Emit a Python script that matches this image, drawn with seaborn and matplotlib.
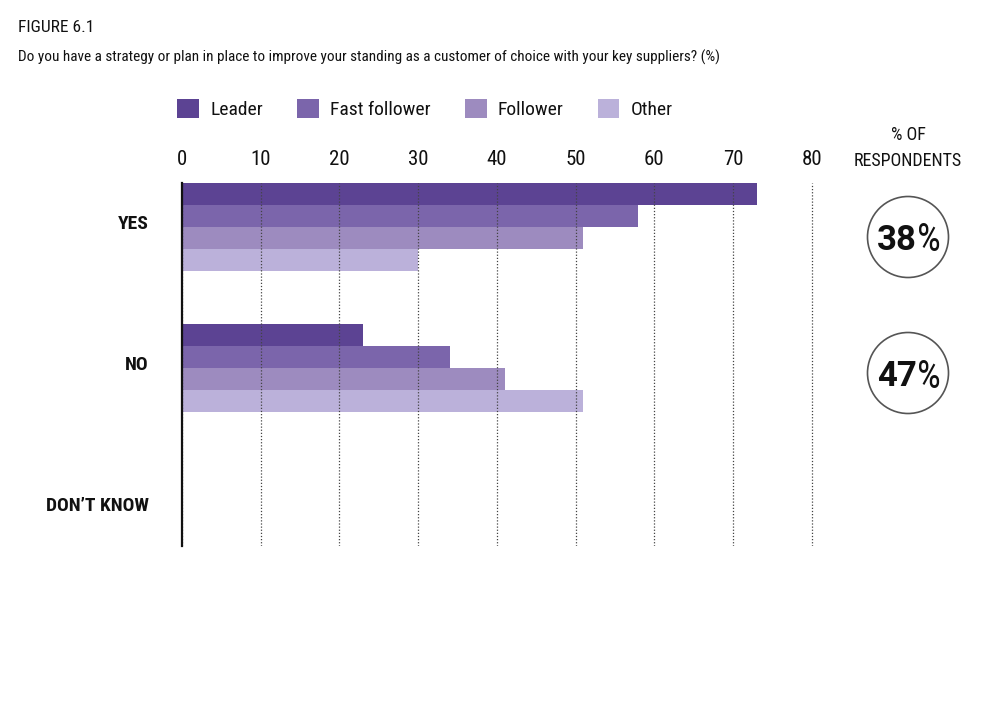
import pandas as pd
import numpy as np
import matplotlib.pyplot as plt
import matplotlib.transforms as mtransforms
import seaborn as sns
from matplotlib.patches import Patch, Ellipse

# chart data
answers = ['YES', 'NO', 'DON\u2019T KNOW']
groups = ['Leader', 'Fast follower', 'Follower', 'Other']
leader = [73, 23, 0]
fast_follower = [58, 34, 0]
follower = [51, 41, 0]
other = [30, 51, 0]
respondents = ['38', '47']
x_ticks = [0, 10, 20, 30, 40, 50, 60, 70, 80]

colors = ['#5c4393', '#7b65ab', '#9d8bbf', '#bbb1da']

sns.set_theme(style='white')
plt.rcParams['font.family'] = ['Roboto Condensed', 'Lato', 'DejaVu Sans']

df = pd.DataFrame({
    'answer': answers * 4,
    'group': np.repeat(groups, len(answers)),
    'value': leader + fast_follower + follower + other,
})

fig = plt.figure(figsize=(10, 7.14), dpi=100)
ax = fig.add_axes([0.182, 0.2353, 0.632, 0.5084])

sns.barplot(data=df, y='answer', x='value', hue='group', order=answers,
            hue_order=groups, palette=colors, orient='h', width=0.62,
            saturation=1, linewidth=0, legend=False, ax=ax)

ax.set_xlim(0, 80.3)
ax.set_ylim(2.262, -0.312)
ax.set_xticks(x_ticks)
ax.xaxis.tick_top()
ax.tick_params(axis='x', length=0, pad=10, labelsize=15, colors='#111111')
ax.tick_params(axis='y', length=0, pad=24, labelsize=14, colors='#111111')
# category labels sit a little above the bar-group centres
shift = mtransforms.ScaledTranslation(0, 5 / 100, fig.dpi_scale_trans)
for lbl in ax.get_yticklabels():
    lbl.set_fontweight('bold')
    lbl.set_transform(lbl.get_transform() + shift)
ax.set_xlabel('')
ax.set_ylabel('')
ax.grid(axis='x', linestyle=(0, (1, 1.5)), color='#444444', linewidth=0.9)
ax.set_axisbelow(False)
for side in ['top', 'right', 'bottom']:
    ax.spines[side].set_visible(False)
ax.spines['left'].set_color('#111111')
ax.spines['left'].set_linewidth(1.6)
ax.spines['left'].set_zorder(5)

# legend
handles = [Patch(facecolor=c, edgecolor='none', label=g) for c, g in zip(colors, groups)]
fig.legend(handles=handles, loc='center left', bbox_to_anchor=(0.177, 0.847),
           ncol=4, frameon=False, fontsize=14, handlelength=1.13, handleheight=1.13,
           handletextpad=0.57, columnspacing=1.75, borderpad=0, borderaxespad=0,
           labelcolor='#111111')

# titles
fig.text(0.018, 0.972, 'FIGURE 6.1', fontsize=12.5, va='top', color='#111111')
fig.text(0.018, 0.92, 'Do you have a strategy or plan in place to improve your standing '
         'as a customer of choice with your key suppliers? (%)',
         fontsize=11.0, va='center', color='#111111')

# respondents column
fig.text(0.908, 0.7927, '% OF\nRESPONDENTS', fontsize=13, ha='center', va='center',
         linespacing=1.55, color='#111111')
circle_y = [1 - 237 / 714, 1 - 373 / 714]
for val, cy in zip(respondents, circle_y):
    fig.patches.append(Ellipse((0.908, cy), 0.081, 0.081 * 1000 / 714,
                               transform=fig.transFigure, facecolor='white',
                               edgecolor='#555555', linewidth=1.2))
    fig.text(0.917, cy, val, fontsize=25, fontweight='bold', family='Roboto',
             ha='right', va='center_baseline', color='#111111')
    fig.text(0.917, cy, '%', fontsize=27, ha='left', va='center_baseline',
             color='#111111')

fig.savefig('out.png', dpi=100, facecolor='white')
